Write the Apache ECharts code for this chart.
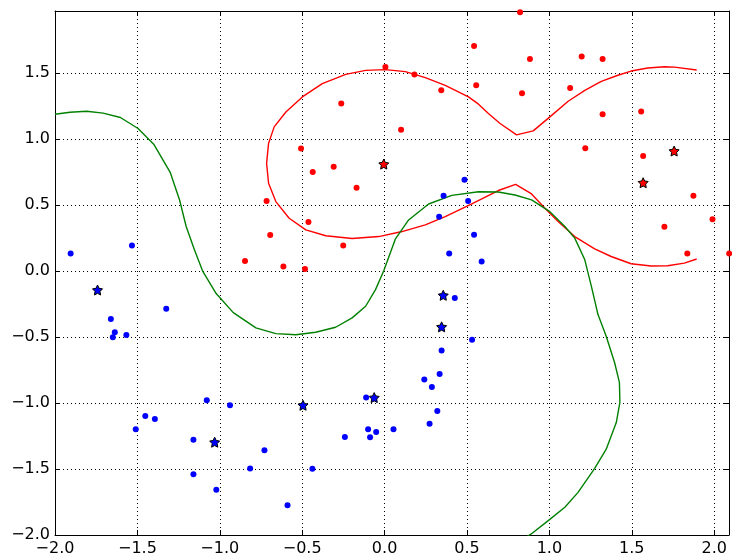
<!DOCTYPE html>
<html>
<head>
<meta charset="utf-8">
<script src="https://cdn.jsdelivr.net/npm/echarts@6/dist/echarts.min.js"></script>
<style>html,body{margin:0;padding:0;background:#fff}#chart{width:732px;height:557px}</style>
</head>
<body>
<div id="chart"></div>
<script>
// Blue class: plain points
const blueX = [-1.905,-1.533,-1.325,-1.661,-1.637,-1.649,-1.567,-1.079,-0.938,-1.452,-1.394,-1.510,-1.160,-1.160,-1.021,-0.816,-0.729,-0.438,-0.589,-0.241,-0.100,-0.088,-0.051,0.054,0.273,0.320,-0.112,0.392,0.589,0.426,0.531,0.346,0.334,0.241,0.287,0.485,0.358,0.507,0.331,0.543];
const blueY = [0.133,0.193,-0.285,-0.363,-0.464,-0.501,-0.484,-0.980,-1.017,-1.098,-1.121,-1.199,-1.279,-1.539,-1.657,-1.497,-1.357,-1.498,-1.775,-1.257,-1.199,-1.259,-1.219,-1.199,-1.158,-1.060,-0.959,0.133,0.073,-0.204,-0.521,-0.602,-0.781,-0.821,-0.879,0.692,0.571,0.531,0.412,0.274];
// Blue class: star points
const blueStarX = [-1.742,-1.031,-0.495,-0.063,0.356,0.346];
const blueStarY = [-0.144,-1.297,-1.017,-0.959,-0.184,-0.423];
// Red class: plain points
const redX = [0.822,0.882,1.196,1.323,0.834,1.126,1.323,1.557,1.218,1.569,1.874,1.698,1.990,1.837,2.091,0.543,0.005,0.181,0.344,0.556,-0.263,0.100,-0.507,-0.436,-0.309,-0.170,-0.716,-0.462,-0.694,-0.251,-0.847,-0.614,-0.483];
const redY = [1.961,1.606,1.626,1.606,1.347,1.387,1.188,1.208,0.931,0.871,0.571,0.335,0.393,0.133,0.133,1.704,1.545,1.488,1.369,1.407,1.269,1.070,0.929,0.750,0.790,0.631,0.531,0.372,0.272,0.193,0.075,0.035,0.015];
// Red class: star points
const redStarX = [-0.005,1.757,1.569];
const redStarY = [0.810,0.909,0.669];
// Red curve
const redCurveX = [1.894,1.759,1.698,1.597,1.496,1.416,1.315,1.215,1.114,1.003,0.902,0.801,0.701,0.630,0.570,0.509,0.368,0.247,0.126,0.005,-0.115,-0.236,-0.378,-0.499,-0.599,-0.670,-0.704,-0.716,-0.704,-0.660,-0.579,-0.478,-0.357,-0.197,-0.035,0.106,0.247,0.368,0.529,0.690,0.795,0.892,0.973,1.053,1.154,1.275,1.375,1.496,1.617,1.718,1.819,1.894];
const redCurveY = [1.523,1.545,1.548,1.538,1.515,1.483,1.437,1.369,1.286,1.168,1.062,1.032,1.118,1.193,1.264,1.319,1.407,1.465,1.511,1.526,1.520,1.490,1.420,1.319,1.205,1.092,0.967,0.816,0.665,0.526,0.400,0.312,0.267,0.246,0.261,0.299,0.350,0.412,0.508,0.610,0.657,0.584,0.476,0.375,0.261,0.168,0.110,0.055,0.038,0.040,0.060,0.091];
// Green curve
const greenCurveX = [-2.0,-1.909,-1.808,-1.708,-1.603,-1.496,-1.401,-1.300,-1.244,-1.204,-1.154,-1.103,-1.022,-0.918,-0.781,-0.660,-0.539,-0.418,-0.297,-0.197,-0.115,-0.055,-0.005,0.066,0.146,0.267,0.408,0.570,0.690,0.791,0.892,1.003,1.094,1.154,1.215,1.255,1.295,1.345,1.396,1.425,1.428,1.406,1.345,1.275,1.174,1.094,0.993,0.888,0.840];
const greenCurveY = [1.188,1.203,1.211,1.196,1.163,1.080,0.961,0.745,0.538,0.337,0.161,-0.003,-0.171,-0.315,-0.431,-0.474,-0.483,-0.464,-0.426,-0.355,-0.267,-0.141,0.002,0.244,0.387,0.508,0.573,0.601,0.599,0.576,0.539,0.450,0.337,0.249,0.085,-0.116,-0.330,-0.494,-0.695,-0.844,-0.995,-1.148,-1.350,-1.495,-1.677,-1.790,-1.891,-1.994,-2.03];
// Tick labels
const xTickValues = [-2.0,-1.5,-1.0,-0.5,0.0,0.5,1.0,1.5,2.0];
const yTickValues = [-2.0,-1.5,-1.0,-0.5,0.0,0.5,1.0,1.5];

const zip = (a, b) => a.map((v, i) => [v, b[i]]);
const STAR = 'path://M0,-10 L2.94,-4.05 L9.51,-3.09 L4.76,1.55 L5.88,8.09 L0,5 L-5.88,8.09 L-4.76,1.55 L-9.51,-3.09 L-2.94,-4.05 Z';
const fmt = (list) => (v) => {
  const hit = list.find(t => Math.abs(t - v) < 1e-6);
  if (hit === undefined) return '';
  return hit.toFixed(1).replace('-', '\u2212');
};
const FONT = 'DejaVu Sans';
const gridLine = {show: true, lineStyle: {color: '#000', width: 1, type: [1, 3]}};
const frame = {show: true, onZero: false, lineStyle: {color: '#000', width: 1}};
const tick = {show: true, inside: true, length: 5, lineStyle: {color: '#000', width: 1}};

const chart = echarts.init(document.getElementById('chart'), null, {renderer: 'canvas'});
chart.setOption({
  animation: false,
  backgroundColor: '#fff',
  grid: {left: 55, top: 11, right: 1, bottom: 22, containLabel: false},
  xAxis: [
    {type: 'value', min: -2, max: 2.09, interval: 0.5, position: 'bottom',
     axisLine: frame, axisTick: tick, splitLine: gridLine,
     axisLabel: {formatter: fmt(xTickValues), fontFamily: FONT, fontSize: 16, color: '#000', margin: 6, showMaxLabel: true}},
    {type: 'value', min: -2, max: 2.09, interval: 0.5, position: 'top',
     axisLine: frame, axisTick: tick, splitLine: {show: false}, axisLabel: {show: false}}
  ],
  yAxis: [
    {type: 'value', min: -2, max: 1.97, interval: 0.5, position: 'left',
     axisLine: frame, axisTick: tick, splitLine: gridLine,
     axisLabel: {formatter: fmt(yTickValues), fontFamily: FONT, fontSize: 16, color: '#000', margin: 5}},
    {type: 'value', min: -2, max: 1.97, interval: 0.5, position: 'right',
     axisLine: frame, axisTick: tick, splitLine: {show: false}, axisLabel: {show: false}}
  ],
  series: [
    {type: 'scatter', data: zip(blueX, blueY), symbol: 'circle', symbolSize: 6, clip: false,
     itemStyle: {color: '#0000ff', opacity: 1}, z: 3},
    {type: 'scatter', data: zip(redX, redY), symbol: 'circle', symbolSize: 6, clip: false,
     itemStyle: {color: '#ff0000', opacity: 1}, z: 3},
    {type: 'scatter', data: zip(blueStarX, blueStarY), symbol: STAR, symbolSize: 10,
     itemStyle: {color: '#0000ff', borderColor: '#000', borderWidth: 1, opacity: 1}, z: 4},
    {type: 'scatter', data: zip(redStarX, redStarY), symbol: STAR, symbolSize: 10,
     itemStyle: {color: '#ff0000', borderColor: '#000', borderWidth: 1, opacity: 1}, z: 4},
    {type: 'line', data: zip(redCurveX, redCurveY), showSymbol: false, symbol: 'none', clip: true,
     lineStyle: {color: '#ff0000', width: 1.4}, z: 2},
    {type: 'line', data: zip(greenCurveX, greenCurveY), showSymbol: false, symbol: 'none', clip: true,
     lineStyle: {color: '#008000', width: 1.4}, z: 2}
  ]
});
</script>
</body>
</html>
